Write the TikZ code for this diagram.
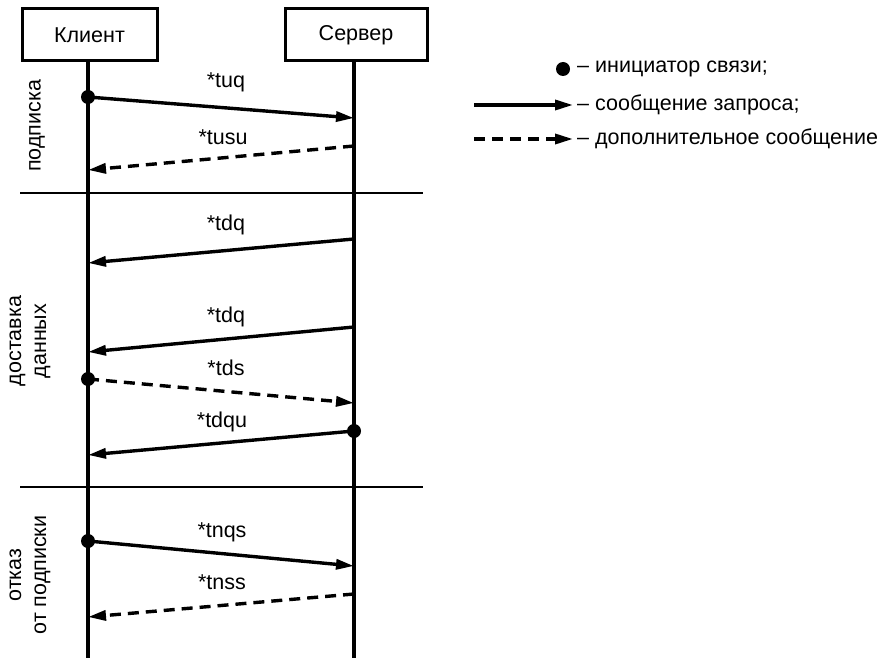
\documentclass[tikz,border=0pt]{standalone}
\usepackage{fontspec}
\setmainfont{Liberation Sans}
\usetikzlibrary{arrows.meta}
\begin{document}
\begin{tikzpicture}[x=1pt,y=-1pt,
  font=\fontsize{21.5}{25}\selectfont,
  actor/.style={draw,line width=3pt,minimum height=52pt,inner sep=0pt},
  life/.style={line width=3.4pt},
  sep/.style={line width=2pt},
  msg/.style={line width=3.4pt,-{Triangle[length=18pt,width=10pt]}},
  dmsg/.style={msg,dash pattern=on 11pt off 7pt},
  dotc/.style={circle,fill,inner sep=0pt,minimum size=14pt},
  lbl/.style={inner sep=1pt},
  side/.style={rotate=90,align=center,inner sep=0pt}]
\useasboundingbox (0,0) rectangle (883,658);
% actors
\node[actor,minimum width=135pt] (client) at (89.5,35) {Клиент};
\node[actor,minimum width=142pt] (server) at (356,35) {Сервер};
\coordinate (cend) at (88,658);
\coordinate (send) at (354,658);
\draw[life] (client.south -| cend) -- (cend);
\draw[life] (server.south -| send) -- (send);
% separators
\coordinate (s1a) at (20,193); \coordinate (s1b) at (423,193);
\coordinate (s2a) at (20,487); \coordinate (s2b) at (423,487);
\draw[sep] (s1a) -- (s1b);
\draw[sep] (s2a) -- (s2b);
% message endpoints
\coordinate (c1) at (88,97);  \coordinate (s1) at (354,118);
\coordinate (s2) at (354,146); \coordinate (c2) at (88,170);
\coordinate (s3) at (354,239); \coordinate (c3) at (88,263);
\coordinate (s4) at (354,327); \coordinate (c4) at (88,352);
\coordinate (c5) at (88,379);  \coordinate (s5) at (354,403);
\coordinate (s6) at (354,431); \coordinate (c6) at (88,455);
\coordinate (c7) at (88,541);  \coordinate (s7) at (354,566);
\coordinate (s8) at (354,594); \coordinate (c8) at (88,617);
% messages
\draw[msg] (c1) -- (s1);
\draw[dmsg] (s2) -- (c2);
\draw[msg] (s3) -- (c3);
\draw[msg] (s4) -- (c4);
\draw[dmsg] (c5) -- (s5);
\draw[msg] (s6) -- (c6);
\draw[msg] (c7) -- (s7);
\draw[dmsg] (s8) -- (c8);
% initiator dots
\node[dotc] (d1) at (c1) {};
\node[dotc] (d5) at (c5) {};
\node[dotc] (d6) at (s6) {};
\node[dotc] (d7) at (c7) {};
% labels
\node[lbl] (l1) at (226,82) {*tuq};
\node[lbl] (l2) at (223,137) {*tusu};
\node[lbl] (l3) at (226,225) {*tdq};
\node[lbl] (l4) at (226,317) {*tdq};
\node[lbl] (l5) at (226,368) {*tds};
\node[lbl] (l6) at (222,422) {*tdqu};
\node[lbl] (l7) at (222,532) {*tnqs};
\node[lbl] (l8) at (222,582) {*tnss};
% side labels
\node[side] (p1) at (37,126) {подписка};
\node[side] (p2) at (30,341) {доставка\\данных};
\node[side] (p3) at (30,575) {отказ\\от подписки};
% legend
\node[dotc] (ld) at (563,69) {};
\node[anchor=west,inner sep=0pt] (lt1) at (577,69) {– инициатор связи;};
\coordinate (la1) at (474,105); \coordinate (la2) at (573,105);
\draw[msg] (la1) -- (la2);
\node[anchor=west,inner sep=0pt] (lt2) at (577,105) {– сообщение запроса;};
\coordinate (lb1) at (474,139); \coordinate (lb2) at (573,139);
\draw[dmsg] (lb1) -- (lb2);
\node[anchor=west,inner sep=0pt] (lt3) at (577,139) {– дополнительное сообщение};
\end{tikzpicture}
\end{document}
